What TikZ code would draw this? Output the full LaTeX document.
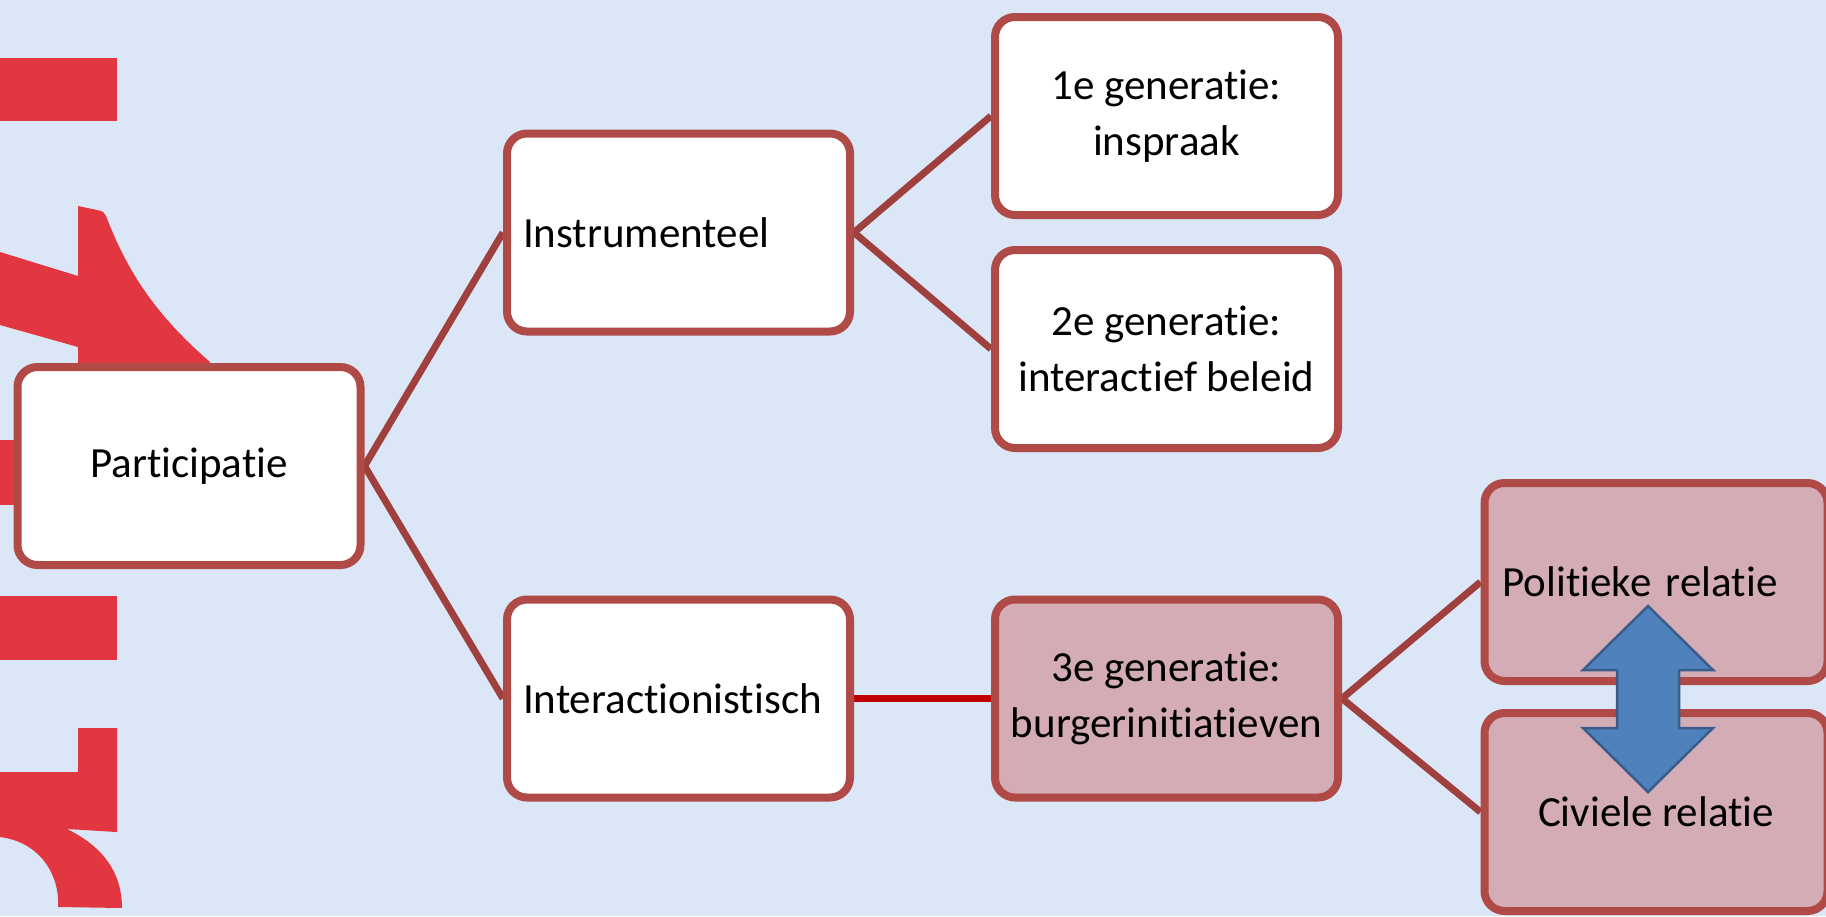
\documentclass[tikz,border=0pt]{standalone}
\usepackage{fontspec}
\setmainfont{Carlito}[RawFeature={-liga;-clig;-calt;-dlig}]
\pgfdeclarelayer{bg}
\pgfdeclarelayer{lines}
\pgfsetlayers{bg,lines,main}
\definecolor{bgblue}{RGB}{219,230,246}
\definecolor{logored}{RGB}{226,54,64}
\definecolor{boxborder}{RGB}{176,74,71}
\definecolor{conncol}{RGB}{160,64,62}
\definecolor{brightred}{RGB}{192,0,0}
\definecolor{pinkfill}{RGB}{212,172,182}
\definecolor{arrowfill}{RGB}{79,129,189}
\definecolor{arrowline}{RGB}{56,93,138}
\tikzset{
  box/.style={draw=boxborder, line width=8pt, rounded corners=20pt, fill=white,
    minimum width=343pt, minimum height=198pt, inner sep=0pt, align=center,
    font=\fontsize{43}{56}\selectfont},
  leftbox/.style={box, text width=315pt, inner xsep=14pt, align=left},
  pinkbox/.style={box, fill=pinkfill},
  conn/.style={draw=conncol, line width=7pt},
  redconn/.style={draw=brightred, line width=7pt},
}
\begin{document}
\begin{tikzpicture}[x=1pt,y=-1pt]
\useasboundingbox (0,0) rectangle (1826,916);
\begin{pgfonlayer}{bg}
\fill[bgblue] (0,0) rectangle (1826,916);
\end{pgfonlayer}
% decorative red shapes
\fill[logored] (0,58) rectangle (117,121);
\fill[logored] (0,252) -- (78,276) -- (78,206) -- (97,210)
  .. controls (103,211) and (105,213) .. (106,216)
  .. controls (125,265) and (150,310) .. (210,362)
  -- (210,380) -- (78,380) -- (78,347) -- (0,325) -- cycle;
\fill[logored] (0,440) rectangle (30,505);
\fill[logored] (0,596) rectangle (117,660);
\fill[logored] (0,772) -- (78,772) -- (78,728) -- (117,728) -- (117,832) -- (67,829)
  .. controls (100,845) and (122,870) .. (122,908) -- (58,907)
  .. controls (60,875) and (40,842) .. (0,837) -- cycle;
% boxes
\node[box] (part) at (189,466) {Participatie};
\node[leftbox] (instr) at (678.5,232.5) {\hspace*{2pt}Instrumenteel};
\node[leftbox] (inter) at (678.5,698.5) {\hspace*{2pt}Interactionistisch};
\node[box] (gen1) at (1166.5,116) {1e generatie:\\inspraak};
\node[box] (gen2) at (1166.5,349) {2e generatie:\\interactief beleid};
\node[pinkbox] (gen3) at (1166.5,698.5) {3e generatie:\\burgerinitiatieven};
\node[pinkbox, text width=315pt, inner xsep=14pt, align=left] (pol) at (1656,582) {\hspace*{4pt}Politieke relatie};
\node[pinkbox] (civ) at (1656,812) {Civiele relatie};
% connectors
\begin{pgfonlayer}{lines}
\draw[conn] (part.east) -- (instr.west);
\draw[conn] (part.east) -- (inter.west);
\draw[conn] (instr.east) -- (gen1.west);
\draw[conn] (instr.east) -- (gen2.west);
\draw[redconn] (inter.east) -- (gen3.west);
\draw[conn] (gen3.east) -- (pol.west);
\draw[conn] (gen3.east) -- (civ.west);
\end{pgfonlayer}
% double arrow between relations
\coordinate (arrtop) at (1648,606);
\coordinate (arrbot) at (1648,792);
\filldraw[fill=arrowfill, draw=arrowline, line width=2.5pt, line join=miter]
  (arrtop) -- (1713,670) -- (1679,670) -- (1679,728) -- (1713,728) -- (arrbot)
  -- (1583,728) -- (1617,728) -- (1617,670) -- (1583,670) -- cycle;
\end{tikzpicture}
\end{document}
